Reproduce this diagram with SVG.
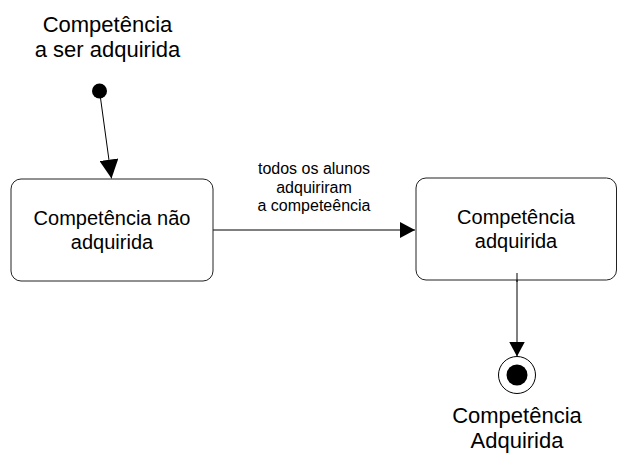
<svg xmlns="http://www.w3.org/2000/svg" width="617" height="455" viewBox="0 0 617 455">
<style>
text{font-family:"Liberation Sans",Arial,sans-serif;fill:#000;text-anchor:middle}
.big{font-size:22px}
.mid{font-size:20px}
.small{font-size:16px}
.box{fill:#fff;stroke:#222;stroke-width:1}
.edge{stroke:#000;stroke-width:1;fill:none}
</style>
<defs>
<marker id="arr" markerUnits="userSpaceOnUse" markerWidth="15" markerHeight="16" refX="15" refY="8" orient="auto" viewBox="0 0 15 16">
<path d="M0,0 L15,8 L0,16 Z" fill="#000"/>
</marker>
<marker id="arrBig" markerUnits="userSpaceOnUse" markerWidth="19" markerHeight="19" refX="19" refY="9.5" orient="auto" viewBox="0 0 19 19">
<path d="M0,0 L19,9.5 L0,19 Z" fill="#000"/>
</marker>
</defs>
<rect width="617" height="455" fill="#fff"/>
<g id="connectors">
<line class="edge" x1="100.5" y1="98" x2="111.5" y2="178.5" marker-end="url(#arrBig)"/>
<line class="edge" x1="213" y1="230" x2="415" y2="230" marker-end="url(#arr)"/>
<line class="edge" x1="517" y1="273" x2="517" y2="356.5" marker-end="url(#arr)"/>
<g id="edge-label">
<text class="small" x="314" y="174">todos os alunos</text>
<text class="small" x="314" y="193">adquiriram</text>
<text class="small" x="314" y="211">a competeência</text>
</g>
</g>
<g id="start">
<circle cx="99.5" cy="91" r="7.5" fill="#000"/>
<text class="big" x="107.5" y="32">Competência</text>
<text class="big" x="107.5" y="57">a ser adquirida</text>
</g>
<g id="nao-adquirida">
<rect class="box" x="11" y="179" width="202" height="102" rx="10" ry="10"/>
<text class="mid" x="112" y="225">Competência não</text>
<text class="mid" x="112" y="249">adquirida</text>
</g>
<g id="adquirida">
<rect class="box" x="416" y="178" width="200.5" height="102" rx="10" ry="10"/>
<text class="mid" x="516" y="224">Competência</text>
<text class="mid" x="516" y="248">adquirida</text>
</g>
<line class="edge" x1="517" y1="273" x2="517" y2="282"/>
<g id="end">
<circle cx="517" cy="375" r="18.5" fill="#fff" stroke="#000" stroke-width="1"/>
<circle cx="517" cy="375" r="10.5" fill="#000"/>
<text class="big" x="517" y="423">Competência</text>
<text class="big" x="517" y="448">Adquirida</text>
</g>
</svg>
